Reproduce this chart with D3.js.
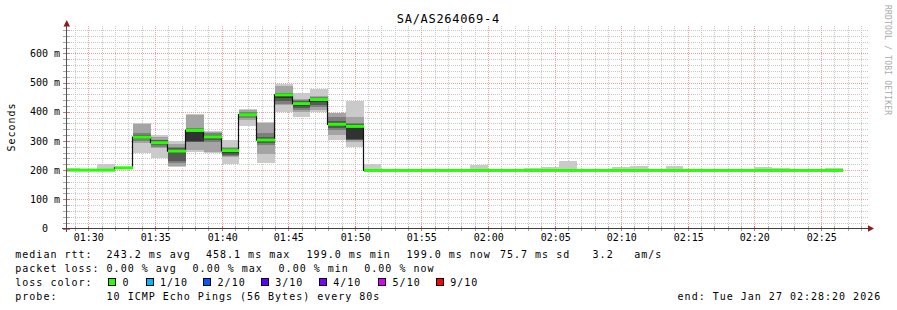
<!DOCTYPE html>
<html>
<head>
<meta charset="utf-8">
<script src="https://cdn.jsdelivr.net/npm/d3@7"></script>
<style>
body { margin: 0; background: #fff; }
svg text { font-family: "DejaVu Sans Mono", monospace; fill: #000; }
</style>
</head>
<body>
<div id="chart"></div>
<script>
const title = 'SA/AS264069-4';
const startTime = '01:28:20', endTime = '02:28:20';
const stepSeconds = 80;

// end time of each 80 s step
const stepEnds = ['01:29:20','01:30:40','01:32:00','01:33:20','01:34:40','01:36:00','01:37:20','01:38:40',
	'01:40:00','01:41:20','01:42:40','01:44:00','01:45:20','01:46:40','01:48:00','01:49:20','01:50:40',
	'01:52:00','01:53:20','01:54:40','01:56:00','01:57:20','01:58:40','02:00:00','02:01:20','02:02:40',
	'02:04:00','02:05:20','02:06:40','02:08:00','02:09:20','02:10:40','02:12:00','02:13:20','02:14:40',
	'02:16:00','02:17:20','02:18:40','02:20:00','02:21:20','02:22:40','02:24:00','02:25:20','02:26:40'];

// median rtt, ms
const medians = [200, 200, 200, 208, 313, 294, 265, 336, 314, 267, 390, 303, 458, 428, 442, 357, 350,
	199, 199, 199, 199, 199, 199, 199, 199, 199, 199, 199, 199, 199, 199, 199, 199, 199, 199,
	199, 199, 199, 199, 199, 199, 199, 199, 199];

// the 10 sorted pings of each step, ms
const pings = [
	[199, 199, 199, 199, 199, 199, 199, 200, 200, 206],
	[199, 199, 199, 199, 199, 199, 199, 199, 199, 200],
	[199, 199, 199, 199, 199, 199, 199, 200, 200, 221],
	[205, 206, 206, 207, 208, 208, 209, 209, 210, 211],
	[258, 292, 300, 307, 312, 316, 320, 327, 358, 362],
	[241, 275, 280, 285, 290, 298, 302, 305, 312, 320],
	[212, 214, 224, 230, 258, 270, 275, 280, 290, 301],
	[262, 268, 296, 298, 300, 340, 342, 345, 388, 393],
	[258, 263, 298, 305, 310, 318, 322, 326, 330, 335],
	[221, 246, 248, 252, 260, 270, 272, 276, 280, 303],
	[352, 372, 378, 384, 388, 392, 396, 400, 405, 411],
	[226, 254, 286, 292, 298, 308, 312, 326, 363, 366],
	[400, 423, 428, 436, 448, 462, 464, 466, 490, 495],
	[383, 398, 406, 412, 420, 432, 436, 441, 444, 466],
	[400, 406, 418, 424, 432, 446, 448, 452, 455, 478],
	[302, 321, 338, 345, 352, 362, 370, 383, 395, 397],
	[280, 298, 302, 304, 306, 355, 358, 361, 383, 438],
	[199, 199, 199, 199, 199, 199, 199, 199, 200, 221],
	[199, 199, 199, 199, 199, 199, 199, 199, 199, 200],
	[199, 199, 199, 199, 199, 199, 199, 199, 199, 200],
	[199, 199, 199, 199, 199, 199, 199, 199, 199, 200],
	[199, 199, 199, 199, 199, 199, 199, 199, 199, 200],
	[199, 199, 199, 199, 199, 199, 199, 199, 199, 200],
	[199, 199, 199, 199, 199, 199, 199, 199, 200, 218],
	[199, 199, 199, 199, 199, 199, 199, 199, 199, 200],
	[199, 199, 199, 199, 199, 199, 199, 199, 199, 200],
	[199, 199, 199, 199, 199, 199, 199, 199, 200, 207],
	[199, 199, 199, 199, 199, 199, 199, 199, 200, 211],
	[199, 199, 199, 199, 199, 199, 199, 199, 200, 231],
	[199, 199, 199, 199, 199, 199, 199, 199, 199, 200],
	[199, 199, 199, 199, 199, 199, 199, 199, 199, 200],
	[199, 199, 199, 199, 199, 199, 199, 199, 200, 211],
	[199, 199, 199, 199, 199, 199, 199, 199, 200, 214],
	[199, 199, 199, 199, 199, 199, 199, 199, 199, 200],
	[199, 199, 199, 199, 199, 199, 199, 199, 200, 214],
	[199, 199, 199, 199, 199, 199, 199, 199, 199, 200],
	[199, 199, 199, 199, 199, 199, 199, 199, 199, 200],
	[199, 199, 199, 199, 199, 199, 199, 199, 199, 200],
	[199, 199, 199, 199, 199, 199, 199, 199, 199, 200],
	[199, 199, 199, 199, 199, 199, 199, 199, 200, 211],
	[199, 199, 199, 199, 199, 199, 199, 199, 200, 207],
	[199, 199, 199, 199, 199, 199, 199, 199, 199, 200],
	[199, 199, 199, 199, 199, 199, 199, 199, 199, 200],
	[199, 199, 199, 199, 199, 199, 199, 199, 200, 207]
];

const yTicks = [0, 100, 200, 300, 400, 500, 600];
const yTickLabels = ['0', '100 m', '200 m', '300 m', '400 m', '500 m', '600 m'];
const yMax = 694;

const rttLegend = ['243.2 ms avg', '458.1 ms max', '199.0 ms min', '199.0 ms now', '75.7 ms sd', '3.2', 'am/s'];
const lossLegend = ['0.00 % avg', '0.00 % max', '0.00 % min', '0.00 % now'];
const lossLabels = ['0', '1/10', '2/10', '3/10', '4/10', '5/10', '9/10'];
const lossColors = ['#26ff00', '#00b8ff', '#0059ff', '#5e00ff', '#7e00ff', '#dd00ff', '#ff0000'];
const probeText = '10 ICMP Echo Pings (56 Bytes) every 80s';
const endText = 'end: Tue Jan 27 02:28:20 2026';

const smokeGreys = ['#cacaca', '#a4a4a4', '#7e7e7e', '#585858', '#323232'];

const W = 897, H = 310;
const plot = { left: 66.5, right: 867, top: 26, bottom: 228.5 };

const svg = d3.select('#chart').append('svg')
	.attr('width', W)
	.attr('height', H);

svg.append('rect').attr('width', W).attr('height', H).attr('fill', '#fff');

const parseT = d3.utcParse('%H:%M:%S');
const x = d3.scaleUtc()
	.domain([parseT(startTime), parseT(endTime)])
	.range([66.3, 865.3]);
const y = d3.scaleLinear()
	.domain([0, yMax])
	.range([plot.bottom, plot.top]);

const steps = stepEnds.map((t, i) => {
	const end = parseT(t);
	return { start: new Date(end.getTime() - stepSeconds * 1000), end: end, median: medians[i], pings: pings[i] };
});

// grid
const grid = svg.append('g').attr('shape-rendering', 'crispEdges');
const minorX = x.ticks(d3.utcMinute.every(1));
const majorX = x.ticks(d3.utcMinute.every(5));
const minorY = d3.range(0, yMax, 20);

grid.selectAll('line.hminor')
	.data(minorY.filter(v => v % 100 !== 0))
	.enter().append('line')
	.attr('x1', 63).attr('x2', 868)
	.attr('y1', d => Math.round(y(d)) + 0.5).attr('y2', d => Math.round(y(d)) + 0.5)
	.attr('stroke', '#c8c8c8').attr('stroke-dasharray', '1,1');
grid.selectAll('line.vminor')
	.data(minorX.filter(d => d.getUTCMinutes() % 5 !== 0))
	.enter().append('line')
	.attr('x1', d => Math.round(x(d)) + 0.5).attr('x2', d => Math.round(x(d)) + 0.5)
	.attr('y1', plot.top).attr('y2', 231)
	.attr('stroke', '#c8c8c8').attr('stroke-dasharray', '1,1');
grid.selectAll('line.hmajor')
	.data(yTicks.filter(v => v > 0))
	.enter().append('line')
	.attr('x1', 63).attr('x2', 868)
	.attr('y1', d => Math.round(y(d)) + 0.5).attr('y2', d => Math.round(y(d)) + 0.5)
	.attr('stroke', '#eda0a0').attr('stroke-dasharray', '1,1');
grid.selectAll('line.vmajor')
	.data(majorX)
	.enter().append('line')
	.attr('x1', d => Math.round(x(d)) + 0.5).attr('x2', d => Math.round(x(d)) + 0.5)
	.attr('y1', plot.top).attr('y2', 232)
	.attr('stroke', '#eda0a0').attr('stroke-dasharray', '1,1');

// smoke
const px = d => Math.max(Math.round(x(d)), 67);
const smoke = svg.append('g').attr('shape-rendering', 'crispEdges');
steps.forEach(s => {
	smokeGreys.forEach((c, i) => {
		const lo = s.pings[i], hi = s.pings[9 - i];
		if (hi <= lo) return;
		smoke.append('rect')
			.attr('x', px(s.start))
			.attr('width', px(s.end) - px(s.start))
			.attr('y', y(hi))
			.attr('height', y(lo) - y(hi))
			.attr('fill', c);
	});
});

// median: dark step line with green segments on top
const medPts = [];
steps.forEach(s => {
	medPts.push([px(s.start), y(s.median)]);
	medPts.push([px(s.end), y(s.median)]);
});
svg.append('path')
	.attr('d', d3.line().x(d => d[0] - 0.5).y(d => d[1])(medPts))
	.attr('fill', 'none')
	.attr('stroke', '#111')
	.attr('stroke-width', 1.2);

svg.append('g').selectAll('rect')
	.data(steps)
	.enter().append('rect')
	.attr('x', d => px(d.start))
	.attr('width', d => px(d.end) - px(d.start))
	.attr('y', d => y(d.median) - 1.5)
	.attr('height', 3)
	.attr('fill', lossColors[0]);

// axes
const axes = svg.append('g').attr('shape-rendering', 'crispEdges');
axes.selectAll('line.xt')
	.data(minorX)
	.enter().append('line')
	.attr('x1', d => Math.round(x(d)) + 0.5).attr('x2', d => Math.round(x(d)) + 0.5)
	.attr('y1', 226).attr('y2', 231)
	.attr('stroke', d => d.getUTCMinutes() % 5 === 0 ? '#e07070' : '#aaaaaa');
axes.selectAll('line.yt')
	.data(minorY)
	.enter().append('line')
	.attr('x1', 63).attr('x2', 70)
	.attr('y1', d => Math.round(y(d)) + 0.5).attr('y2', d => Math.round(y(d)) + 0.5)
	.attr('stroke', d => d % 100 === 0 ? '#e07070' : '#aaaaaa');
axes.append('line')
	.attr('x1', 62).attr('x2', 869)
	.attr('y1', 228.5).attr('y2', 228.5)
	.attr('stroke', '#404040');
axes.append('line')
	.attr('x1', 66.5).attr('x2', 66.5)
	.attr('y1', 232).attr('y2', 24)
	.attr('stroke', '#505050');
svg.append('path')
	.attr('d', 'M63.5,26.5 L70,26.5 L66.75,20 Z')
	.attr('fill', '#8e1a1a');
svg.append('path')
	.attr('d', 'M868,225.2 L868,231.8 L874,228.5 Z')
	.attr('fill', '#8e1a1a');

// tick labels
svg.append('g').selectAll('text')
	.data(majorX)
	.enter().append('text')
	.attr('x', d => Math.round(x(d)) + 0.8)
	.attr('y', 240.7)
	.attr('text-anchor', 'middle')
	.attr('font-size', '10px')
	.text(d => d3.utcFormat('%H:%M')(d));

svg.append('g').selectAll('text')
	.data(yTicks)
	.enter().append('text')
	.attr('x', (d, i) => i === 0 ? 48 : 60)
	.attr('y', d => y(d) + 3.6)
	.attr('text-anchor', 'end')
	.attr('font-size', '10px')
	.text((d, i) => yTickLabels[i]);

// titles
svg.append('text')
	.attr('x', 448.3)
	.attr('y', 23.3)
	.attr('text-anchor', 'middle')
	.attr('font-size', '12px')
	.attr('letter-spacing', '0.7')
	.text(title);

svg.append('text')
	.attr('transform', 'translate(15,127) rotate(-90)')
	.attr('text-anchor', 'middle')
	.attr('font-size', '10px')
	.attr('letter-spacing', '1')
	.text('Seconds');

svg.append('text')
	.attr('transform', 'translate(884.5,5) rotate(90)')
	.attr('font-size', '8px')
	.attr('letter-spacing', '0.2')
	.style('fill', '#aaaaaa')
	.text('RRDTOOL / TOBI OETIKER');

// legend
const legend = svg.append('g')
	.attr('font-size', '10px')
	.attr('letter-spacing', '1');

function legendText(str, lx, ly) {
	legend.append('text').attr('x', lx - 0.7).attr('y', ly).text(str);
}

legendText('median rtt:', 16, 257.7);
[107.3, 206.7, 307.3, 407.3, 500.7, 593.3, 635].forEach((lx, i) => legendText(rttLegend[i], lx, 257.7));

legendText('packet loss:', 16, 271.7);
[107.3, 193.3, 279.3, 365].forEach((lx, i) => legendText(lossLegend[i], lx, 271.7));

legendText('loss color:', 16, 285.7);
const swatchX = [108.3, 145.7, 203.3, 261, 319, 378.3, 436];
lossLabels.forEach((l, i) => {
	legend.append('rect')
		.attr('x', Math.round(swatchX[i]) + 0.5)
		.attr('y', 278.5)
		.attr('width', 7)
		.attr('height', 7)
		.attr('fill', lossColors[i])
		.attr('stroke', '#000')
		.attr('shape-rendering', 'crispEdges');
	legendText(l, swatchX[i] + 15, 285.7);
});

legendText('probe:', 16, 299.5);
legendText(probeText, 107.3, 299.5);
legendText(endText, 678.3, 299.5);
</script>
</body>
</html>
